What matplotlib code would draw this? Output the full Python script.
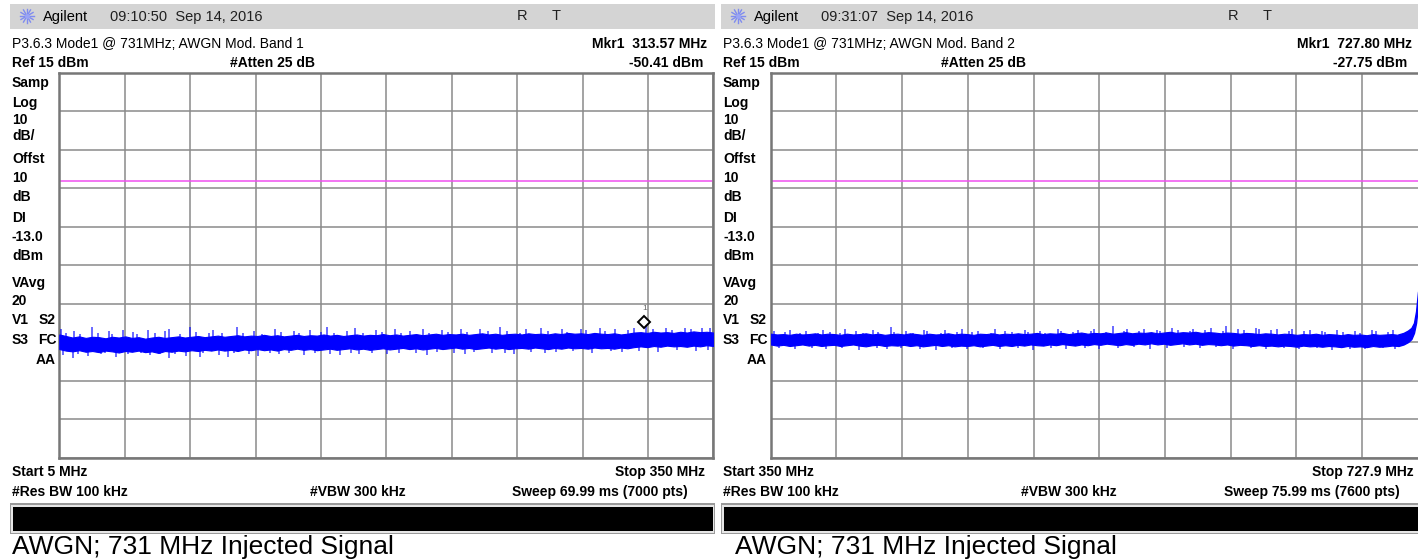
import numpy as np
import matplotlib
matplotlib.use("Agg")
import matplotlib.pyplot as plt
from matplotlib.patches import Rectangle

plt.rcParams['font.family'] = ['Liberation Sans', 'DejaVu Sans']

# ---------------- data ----------------
ref_level = 15.0          # dBm, top of screen
db_per_div = 10.0
display_line = -13.0      # dBm

left_start, left_stop = 5.0, 350.0
right_start, right_stop = 350.0, 727.9

left_marker_f, left_marker_v = 313.57, -50.41
right_marker_f, right_marker_v = 727.80, -27.75

# left trace: dense noise band edges (dBm), evenly spread over the sweep
left_top = [-53.0, -53.4, -53.8, -53.5, -53.9, -53.6, -53.7, -54.0, -53.6, -53.8,
            -53.5, -53.9, -53.7, -54.1, -53.8, -53.6, -53.9, -53.7, -53.5, -53.8,
            -53.6, -53.4, -53.7, -53.5, -53.3, -53.6, -53.4, -53.2, -53.5, -53.3,
            -53.4, -53.1, -53.4, -53.2, -53.5, -53.3, -53.1, -53.4, -53.2, -53.3,
            -53.0, -53.3, -53.1, -53.4, -53.2, -53.0, -53.3, -53.1, -53.2, -52.9,
            -53.2, -53.0, -53.3, -53.1, -52.9, -53.2, -53.0, -52.8, -53.1, -52.9,
            -53.0, -52.8, -53.1, -52.9, -52.7, -53.0, -52.8, -53.1, -52.9, -52.8,
            -53.0, -52.7, -52.9, -52.8, -53.0, -52.7, -52.9, -52.6, -52.8, -52.7,
            -52.9, -52.6, -52.8, -52.9, -52.7, -53.0, -52.8, -52.5, -52.4, -52.6,
            -52.3, -52.5, -52.4, -52.6, -52.3, -52.5, -52.2, -52.4, -52.3, -52.5]
left_bot = [-56.8, -57.2, -57.4, -57.1, -57.5, -57.3, -57.6, -57.2, -57.4, -57.7,
            -57.3, -57.5, -57.2, -57.6, -57.4, -57.8, -57.3, -57.5, -57.2, -57.4,
            -57.1, -57.3, -57.0, -57.2, -56.9, -57.2, -57.0, -57.3, -56.9, -57.1,
            -56.8, -57.1, -56.9, -57.2, -56.8, -57.0, -56.7, -57.0, -56.8, -57.1,
            -56.9, -56.7, -57.0, -56.8, -56.6, -56.9, -56.7, -57.0, -56.8, -56.6,
            -56.9, -56.7, -56.5, -56.8, -56.6, -56.9, -56.7, -56.5, -56.8, -56.6,
            -56.4, -56.7, -56.5, -56.8, -56.6, -56.4, -56.7, -56.5, -56.8, -56.6,
            -56.5, -56.7, -56.4, -56.6, -56.8, -56.5, -56.7, -56.4, -56.6, -56.5,
            -56.7, -56.4, -56.6, -56.5, -56.7, -56.4, -56.6, -56.3, -56.1, -56.3,
            -56.0, -56.2, -55.9, -56.1, -56.0, -56.2, -55.9, -56.1, -55.8, -56.0]

# left trace: upward noise spikes (MHz, dBm)
left_up_f = [6, 8.5, 13, 16, 22, 25.5, 31, 33, 38.5, 44, 46, 52, 55.5, 61, 63, 68.5, 74, 77, 84, 86,
             91, 99, 102, 107.5, 112, 119, 122, 129, 131.5, 137, 143, 146, 150, 157, 161, 165, 172, 175,
             182, 185, 190, 197, 200, 207, 210, 217, 220, 227, 231, 237.6, 241, 248, 251, 259, 263, 270,
             273, 280, 283, 290, 293, 298, 305, 308, 314.7, 318, 325, 328, 335, 338, 344, 348]
left_up_v = [-51.6, -52.7, -52.2, -52.9, -51.0, -52.5, -52.0, -52.8, -51.8, -52.4,
             -52.9, -51.9, -52.6, -52.2, -51.7, -52.8, -51.1, -52.3, -52.6, -51.8,
             -52.5, -51.0, -52.7, -52.1, -52.8, -51.6, -52.4, -52.0, -52.7, -51.9,
             -52.3, -51.1, -52.5, -52.0, -51.2, -52.6, -51.9, -52.4, -51.7, -52.6,
             -52.1, -51.5, -52.5, -51.9, -52.3, -51.7, -52.4, -51.6, -52.2, -51.0,
             -52.0, -52.5, -51.7, -51.2, -52.1, -51.6, -52.3, -51.5, -51.9, -51.4,
             -52.1, -51.6, -51.9, -51.3, -50.5, -51.7, -51.2, -51.8, -51.3, -51.6,
             -51.4, -51.2]
# left trace: downward noise spikes (MHz, dBm)
left_dn_f = [7, 12, 15, 20, 27, 29, 35, 41, 48, 53, 58, 63, 66, 72, 79, 81, 89, 94, 97, 105,
             110, 116, 121, 126, 134, 140, 148, 153, 159, 163, 170, 178, 184, 193, 199, 204, 213,
             219, 224, 233, 240, 245, 254, 261, 267, 276, 286, 296, 302, 311, 321, 331, 341, 347]
left_dn_v = [-58.3, -59.1, -58.0, -58.6, -58.2, -57.9, -58.8, -58.1, -57.9, -58.4,
             -58.0, -59.0, -58.2, -58.5, -58.9, -57.9, -58.3, -58.8, -57.9, -58.1,
             -58.6, -57.8, -58.2, -57.9, -58.4, -57.8, -58.0, -58.3, -57.7, -58.1,
             -57.8, -58.2, -57.7, -57.9, -58.3, -57.6, -57.9, -58.1, -57.6, -57.9,
             -57.7, -58.0, -57.5, -57.8, -57.6, -57.4, -57.8, -57.3, -57.6, -57.2,
             -57.5, -57.1, -57.3, -57.0]

# right trace: dense noise band edges (dBm), evenly spread from 350 to 711 MHz
right_band_stop = 711.0
right_top = [-52.8, -53.0, -52.9, -53.1, -52.8, -53.0, -52.9, -52.7, -53.0, -52.8,
             -52.9, -53.1, -52.8, -53.0, -52.9, -52.7, -53.0, -52.8, -53.1, -52.9,
             -52.8, -53.0, -52.7, -52.9, -53.1, -52.8, -53.0, -52.9, -52.7, -53.0,
             -52.8, -52.9, -53.1, -52.8, -52.9, -52.7, -53.0, -52.8, -52.9, -52.7,
             -52.9, -52.8, -52.6, -52.9, -52.7, -52.8, -52.6, -52.9, -52.7, -52.5,
             -52.8, -52.6, -52.7, -52.5, -52.8, -52.6, -52.4, -52.7, -52.5, -52.6,
             -52.4, -52.7, -52.5, -52.3, -52.6, -52.4, -52.5, -52.3, -52.6, -52.4,
             -52.5, -52.7, -52.5, -52.6, -52.8, -52.6, -52.7, -52.9, -52.7, -52.8,
             -53.0, -52.8, -52.9, -53.1, -52.9, -53.0, -52.8, -53.1, -52.9, -53.0,
             -53.2, -52.9, -53.1, -53.0, -53.2, -52.9, -53.1, -53.0, -52.9, -53.1]
right_bot = [-55.6, -55.9, -55.7, -56.0, -55.8, -55.6, -55.9, -55.7, -56.0, -55.8,
             -55.7, -56.0, -55.8, -55.6, -55.9, -56.1, -55.8, -55.7, -56.0, -55.8,
             -55.9, -55.7, -56.0, -55.8, -56.1, -55.9, -55.7, -56.0, -55.8, -56.1,
             -55.9, -56.0, -55.8, -56.1, -55.9, -55.7, -56.0, -55.8, -56.0, -55.7,
             -55.9, -55.6, -55.8, -55.9, -55.6, -55.8, -55.5, -55.7, -55.9, -55.6,
             -55.8, -55.5, -55.7, -55.4, -55.6, -55.8, -55.5, -55.7, -55.4, -55.6,
             -55.3, -55.6, -55.4, -55.7, -55.5, -55.3, -55.6, -55.4, -55.7, -55.5,
             -55.6, -55.8, -55.6, -55.9, -55.7, -55.8, -56.0, -55.8, -56.0, -55.9,
             -56.1, -55.9, -56.0, -56.2, -55.9, -56.1, -56.0, -56.2, -56.0, -56.1,
             -56.3, -56.0, -56.2, -56.1, -56.3, -56.0, -56.2, -56.1, -55.9, -56.0]
# right trace: rise toward the injected 731 MHz signal
rise_f = [711, 714, 716.5, 718.5, 720, 721.2, 722.3, 723.5, 725, 726.5, 727.8, 727.9]
rise_top = [-53.0, -52.6, -52.0, -51.3, -50.0, -47.0, -42.0, -39.0, -35.5, -31.5, -27.75, -28.5]
rise_bot = [-56.0, -55.6, -55.0, -54.2, -52.6, -50.0, -45.5, -42.5, -38.5, -34.0, -30.0, -31.0]

right_up_f = [352, 358, 361, 367, 370.5, 377, 380, 384, 390, 393, 399, 403, 409, 412, 419, 421, 428, 432,
              438, 440, 448, 450, 457, 460, 466, 469, 477, 479, 485, 489, 496, 498, 505, 508, 515, 517,
              524, 527, 534, 536, 543, 547, 553, 555, 562, 565, 572, 574, 581, 584, 591, 593, 600, 603,
              610, 612, 619, 622, 629, 631, 638, 641, 648, 650, 657, 660, 667, 669, 676, 679, 686, 689,
              696, 698, 705, 708]
right_up_v = [-52.0, -52.4, -51.8, -52.5, -52.1, -52.6, -51.9, -52.3, -52.6, -51.5,
              -52.2, -52.5, -51.9, -52.4, -51.0, -52.3, -52.0, -52.5, -51.8, -52.2,
              -52.5, -51.9, -52.3, -51.7, -52.4, -52.0, -52.5, -51.6, -52.2, -52.4,
              -51.8, -52.3, -52.0, -52.5, -51.7, -52.1, -52.4, -51.9, -52.2, -51.6,
              -52.3, -50.9, -52.0, -51.7, -52.2, -51.5, -51.9, -52.1, -51.2, -51.8,
              -52.0, -51.5, -51.8, -51.3, -52.0, -50.8, -51.6, -51.9, -51.4, -51.7,
              -51.9, -51.5, -52.0, -51.7, -52.2, -51.8, -52.1, -52.4, -51.9, -52.3,
              -52.0, -52.5, -51.8, -52.2, -52.4, -51.9]
right_dn_f = [355, 364, 374, 382, 391, 401, 411, 417, 425, 436, 445, 454, 463, 472, 482, 492, 501, 511,
              520, 531, 539, 550, 559, 568, 578, 588, 597, 606, 616, 626, 635, 645, 654, 664, 673, 683,
              692, 702, 709]
right_dn_v = [-56.6, -56.9, -56.4, -56.8, -56.5, -57.1, -56.6, -56.9, -56.5, -56.8,
              -57.0, -56.6, -56.9, -56.5, -56.8, -56.4, -57.0, -56.6, -56.7, -56.4,
              -56.8, -56.5, -56.3, -56.7, -56.4, -56.2, -56.6, -56.3, -56.8, -56.5,
              -56.9, -56.6, -56.8, -56.5, -57.0, -56.7, -56.9, -56.6, -56.8]

# annotation texts
left_texts = dict(time="09:10:50  Sep 14, 2016",
                  title="P3.6.3 Mode1 @ 731MHz; AWGN Mod. Band 1",
                  mkr="Mkr1  313.57 MHz", mkr_val="-50.41 dBm",
                  start="Start 5 MHz", stop="Stop 350 MHz",
                  sweep="Sweep 69.99 ms (7000 pts)")
right_texts = dict(time="09:31:07  Sep 14, 2016",
                   title="P3.6.3 Mode1 @ 731MHz; AWGN Mod. Band 2",
                   mkr="Mkr1  727.80 MHz", mkr_val="-27.75 dBm",
                   start="Start 350 MHz", stop="Stop 727.9 MHz",
                   sweep="Sweep 75.99 ms (7600 pts)")
side_labels = ["Samp", "Log", "10", "dB/", "Offst", "10", "dB", "DI", "-13.0", "dBm",
               "VAvg", "20"]
caption = "AWGN; 731 MHz Injected Signal"

# ---------------- figure ----------------
W, H = 1418, 560
fig = plt.figure(figsize=(W / 100, H / 100), dpi=100)
fig.patch.set_facecolor("white")
bg = fig.add_axes([0, 0, 1, 1])
bg.set_xlim(0, W)
bg.set_ylim(H, 0)
bg.axis("off")

BLUE = "#0000ff"
GRID = "#8a8a8a"


def px_axes(x0, x1, y0, y1):
    return fig.add_axes([x0 / W, 1 - y1 / H, (x1 - x0) / W, (y1 - y0) / H])


def draw_panel(ox, f0, f1, ax_x0, ax_x1, texts, band_top, band_bot, band_f1,
               up_f, up_v, dn_f, dn_v, mk_f, mk_v, right_pos, cap_x, bar_w,
               rise=None, show_marker=True):
    r_mkr, r_val, r_stop, r_sweep = right_pos
    # header bar
    bg.add_patch(Rectangle((ox - 2, 4), bar_w, 25, color="#d4d4d4", lw=0))
    # Agilent starburst logo
    cx, cy = ox + 15, 16
    for a in np.deg2rad(np.arange(0, 360, 30)):
        bg.plot([cx + 2 * np.cos(a), cx + 7 * np.cos(a)],
                [cy + 2 * np.sin(a), cy + 7 * np.sin(a)], color="#7f8cf0", lw=1.0)
    bg.plot([cx], [cy], marker="o", ms=2.5, color="#9aa4f5")
    bg.text(ox + 31, 16.5, "Agilent", fontsize=10.5, va="center", ha="left")
    bg.text(ox + 98, 16.5, texts["time"], fontsize=10.5, va="center", ha="left", color="#202020")
    bg.text(ox + 505, 16.5, "R", fontsize=10.5, va="center", ha="left", color="#202020")
    bg.text(ox + 540, 16.5, "T", fontsize=10.5, va="center", ha="left", color="#202020")
    # info lines
    bg.text(ox, 43.5, texts["title"], fontsize=10, va="center", ha="left")
    bg.text(r_mkr, 43.5, texts["mkr"], fontsize=10, weight="bold", va="center", ha="right")
    bg.text(ox, 63, "Ref 15 dBm", fontsize=10, weight="bold", va="center", ha="left")
    bg.text(ox + 218, 63, "#Atten 25 dB", fontsize=10, weight="bold", va="center", ha="left")
    bg.text(r_val, 63, texts["mkr_val"], fontsize=10, weight="bold", va="center", ha="right")
    # side labels
    ys = [83, 103, 120, 136, 159, 178, 197, 218, 237, 256, 283, 301]
    for lab, y in zip(side_labels, ys):
        bg.text(ox, y, lab, fontsize=10, weight="bold", va="center", ha="left")
    bg.text(ox, 320, "V1", fontsize=10, weight="bold", va="center", ha="left")
    bg.text(ox + 27, 320, "S2", fontsize=10, weight="bold", va="center", ha="left")
    bg.text(ox, 340.5, "S3", fontsize=10, weight="bold", va="center", ha="left")
    bg.text(ox + 26, 340.5, "FC", fontsize=10, weight="bold", va="center", ha="left")
    bg.text(ox + 24, 360, "AA", fontsize=10, weight="bold", va="center", ha="left")
    # bottom lines
    bg.text(ox, 472, texts["start"], fontsize=10, weight="bold", va="center", ha="left")
    bg.text(r_stop, 472, texts["stop"], fontsize=10, weight="bold", va="center", ha="right")
    bg.text(ox, 492, "#Res BW 100 kHz", fontsize=10, weight="bold", va="center", ha="left")
    bg.text(ox + 298, 492, "#VBW 300 kHz", fontsize=10, weight="bold", va="center", ha="left")
    bg.text(r_sweep, 492, texts["sweep"], fontsize=10, weight="bold", va="center", ha="right")
    # black status bar with frame
    bg.add_patch(Rectangle((ox - 2, 503), bar_w, 31, color="#9a9a9a", lw=0))
    bg.add_patch(Rectangle((ox - 1, 504.5), bar_w - 2, 28, color="#e6e6e6", lw=0))
    bg.add_patch(Rectangle((ox + 1, 507), bar_w - 5, 23.5, color="black", lw=0))
    bg.text(cap_x, 547, caption, fontsize=19, va="center", ha="left")

    # measurement screen
    ax = px_axes(ax_x0, ax_x1, 73, 457.5)
    ax.set_facecolor("white")
    ax.set_xlim(f0, f1)
    ax.set_ylim(ref_level - 10 * db_per_div, ref_level)
    ax.set_xticks(np.linspace(f0, f1, 11))
    ax.set_yticks(np.arange(ref_level - 10 * db_per_div, ref_level + 1, db_per_div))
    ax.tick_params(length=0, labelbottom=False, labelleft=False)
    ax.grid(True, color=GRID, lw=1.1)
    ax.set_axisbelow(True)
    for s in ax.spines.values():
        s.set_color("#777777")
        s.set_linewidth(1.8)
    ax.axhline(display_line, color="#f050f0", lw=1.1, zorder=2)

    bf = np.linspace(f0, band_f1, len(band_top))
    center = (np.array(band_top) + np.array(band_bot)) / 2
    ax.fill_between(bf, band_bot, band_top, color=BLUE, lw=0.8, zorder=3)
    if rise is not None:
        rf, rt, rb = rise
        ax.fill_between(rf, rb, rt, color=BLUE, lw=1.0, zorder=3)
    n = min(len(up_f), len(up_v))
    ax.vlines(up_f[:n], np.interp(up_f[:n], bf, center), up_v[:n], color=BLUE,
              lw=1.1, alpha=0.75, zorder=3)
    n = min(len(dn_f), len(dn_v))
    ax.vlines(dn_f[:n], dn_v[:n], np.interp(dn_f[:n], bf, center), color=BLUE,
              lw=1.1, alpha=0.75, zorder=3)
    if show_marker:
        ax.plot([mk_f], [mk_v + 0.6], marker="D", ms=6.5, mfc="white", mec="black",
                mew=1.4, zorder=5, clip_on=True)
        ax.annotate("1", (mk_f, mk_v + 0.6), xytext=(0, 10), textcoords="offset points",
                    ha="center", va="center", fontsize=6, color="#666666", zorder=5)
    return ax


draw_panel(12, left_start, left_stop, 59.3, 713.3, left_texts, left_top, left_bot, left_stop,
           left_up_f, left_up_v, left_dn_f, left_dn_v, left_marker_f, left_marker_v,
           right_pos=(707, 703, 705, 688), cap_x=12, bar_w=705)
draw_panel(723, right_start, right_stop, 770.7, 1427.7, right_texts, right_top, right_bot,
           right_band_stop, right_up_f, right_up_v, right_dn_f, right_dn_v,
           right_marker_f, right_marker_v,
           right_pos=(1412, 1407, 1414, 1400), cap_x=735, bar_w=705,
           rise=(rise_f, rise_top, rise_bot), show_marker=False)

fig.savefig("out.png", dpi=100)
